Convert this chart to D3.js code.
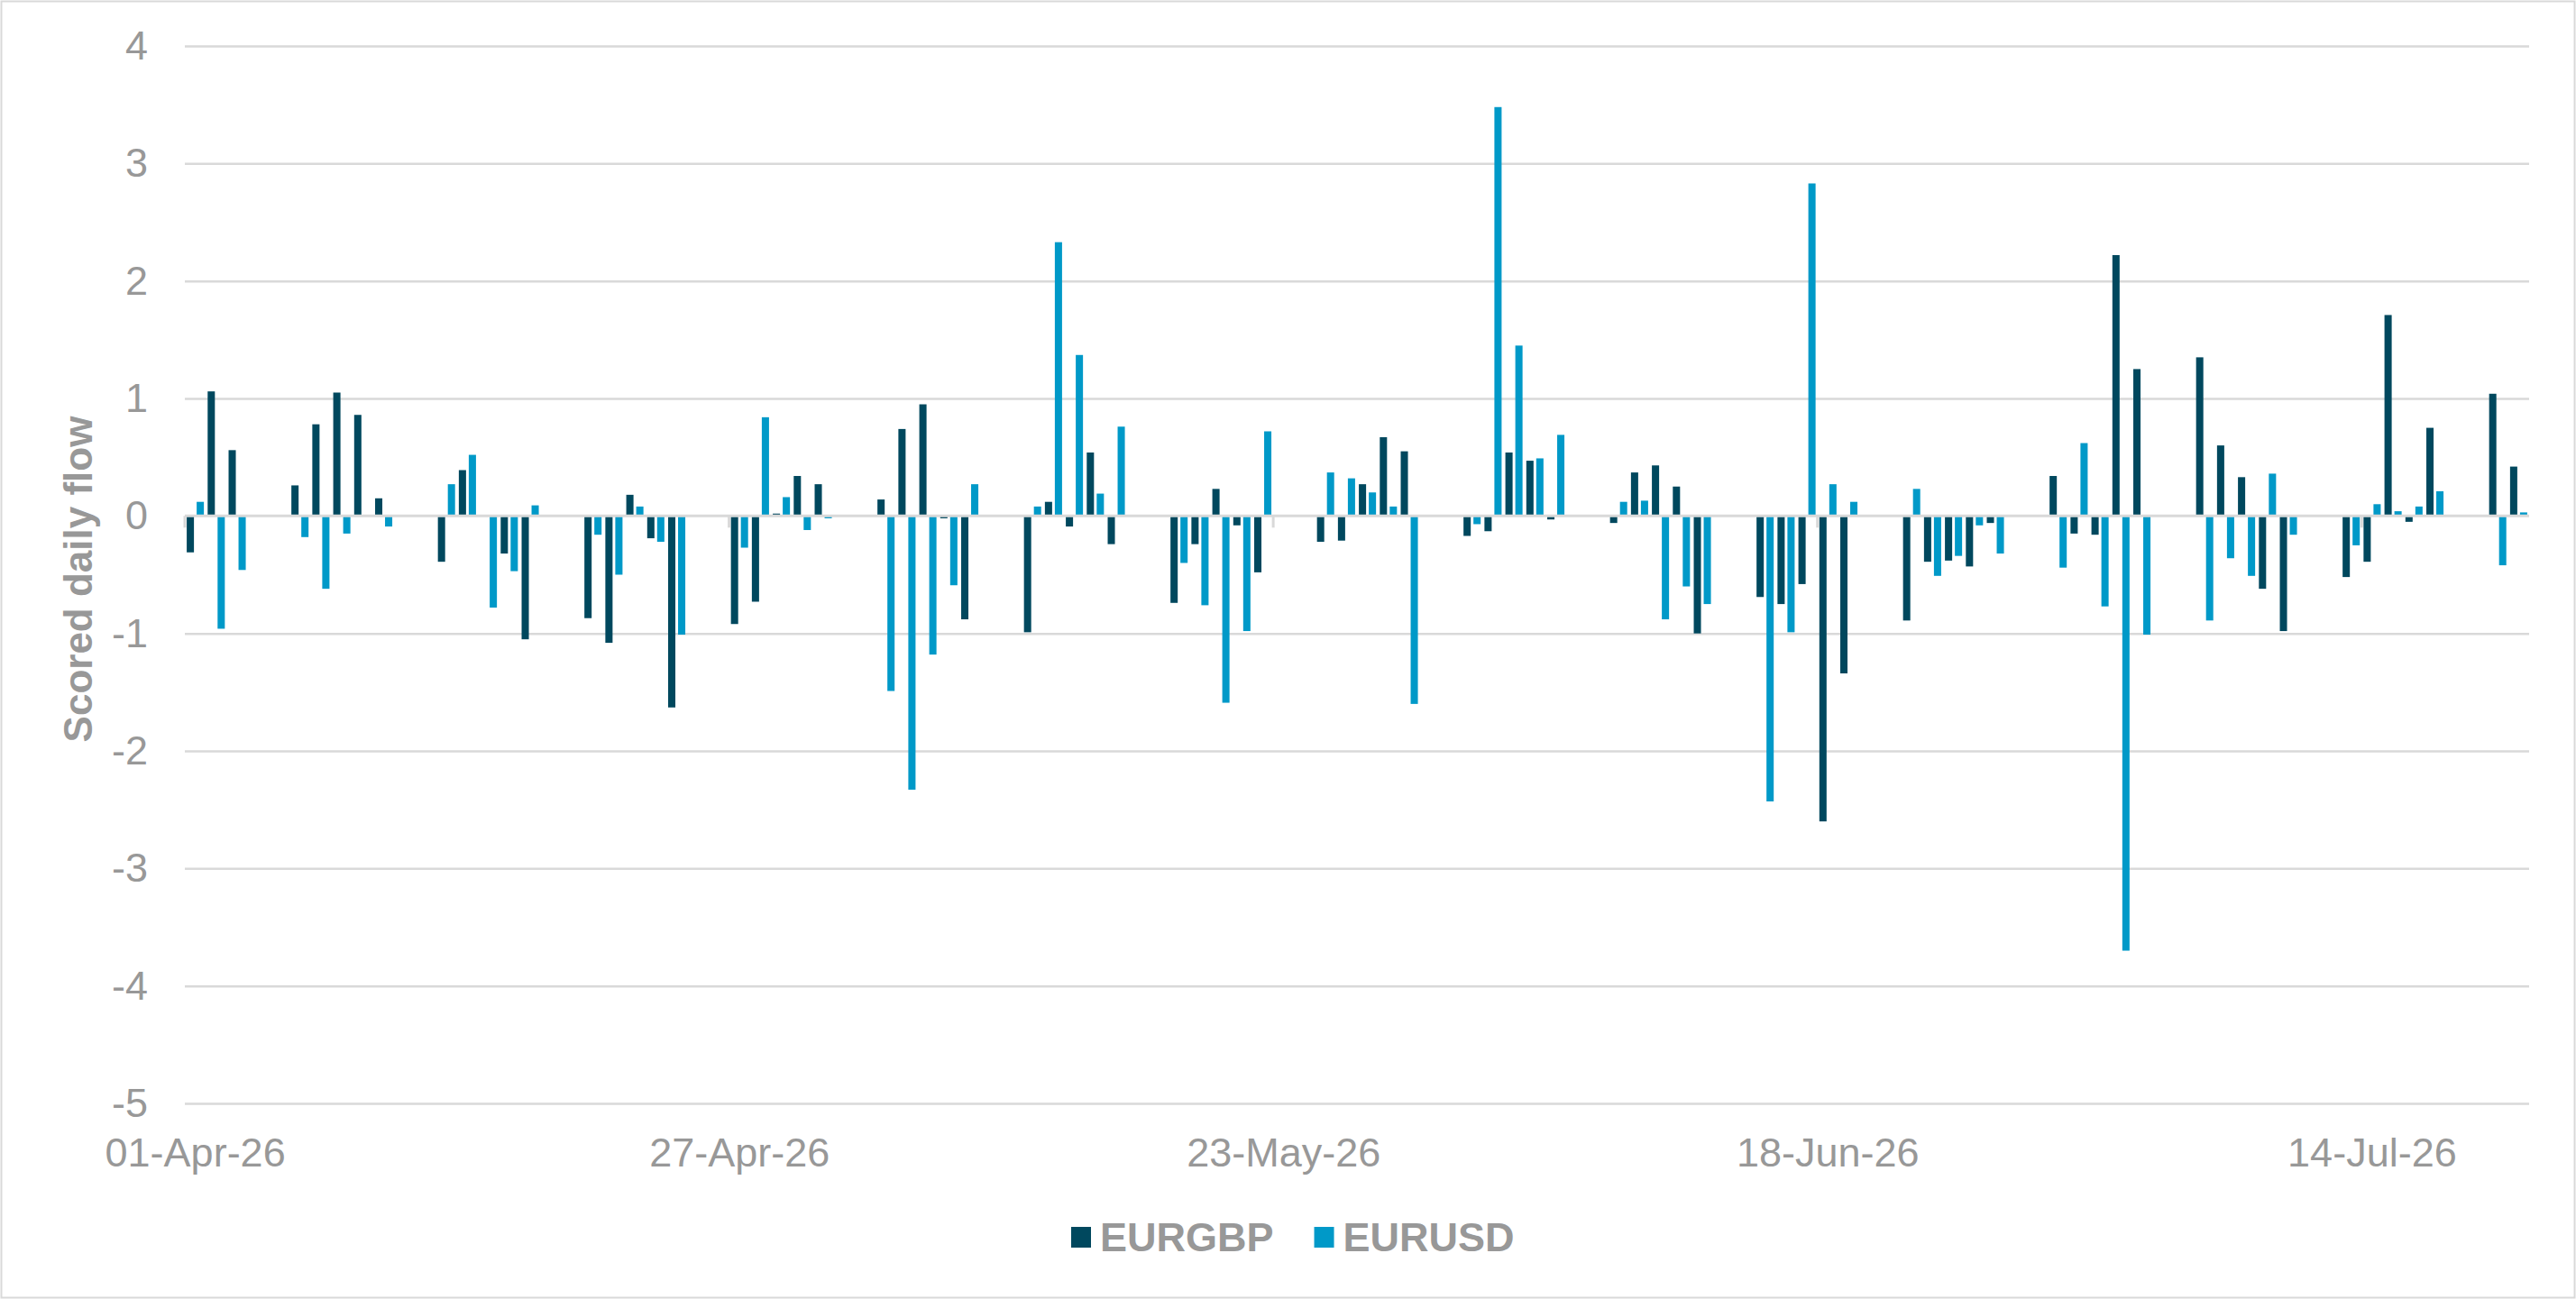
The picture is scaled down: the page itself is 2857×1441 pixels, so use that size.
<!DOCTYPE html>
<html>
<head>
<meta charset="utf-8">
<script src="https://d3js.org/d3.v7.min.js"></script>
<style>
    body { margin: 0; background: #fff; }
    svg { display: block; font-family: Arial, "Liberation Sans", sans-serif; }
</style>
</head>
<body>
<svg id="chart" width="2857" height="1441"></svg>
<script>
    // trading days shown on the chart
    var dates = [
        '2026-04-01', '2026-04-02', '2026-04-03',
        '2026-04-06', '2026-04-07', '2026-04-08', '2026-04-09', '2026-04-10',
        '2026-04-13', '2026-04-14', '2026-04-15', '2026-04-16', '2026-04-17',
        '2026-04-20', '2026-04-21', '2026-04-22', '2026-04-23', '2026-04-24',
        '2026-04-27', '2026-04-28', '2026-04-29', '2026-04-30',
        '2026-05-01',
        '2026-05-04', '2026-05-05', '2026-05-06', '2026-05-07', '2026-05-08',
        '2026-05-11', '2026-05-12', '2026-05-13', '2026-05-14', '2026-05-15',
        '2026-05-18', '2026-05-19', '2026-05-20', '2026-05-21', '2026-05-22',
        '2026-05-25', '2026-05-26', '2026-05-27', '2026-05-28', '2026-05-29',
        '2026-06-01', '2026-06-02', '2026-06-03', '2026-06-04', '2026-06-05',
        '2026-06-08', '2026-06-09', '2026-06-10', '2026-06-11', '2026-06-12',
        '2026-06-15', '2026-06-16', '2026-06-17', '2026-06-18', '2026-06-19',
        '2026-06-22', '2026-06-23', '2026-06-24', '2026-06-25', '2026-06-26',
        '2026-06-29', '2026-06-30',
        '2026-07-01', '2026-07-02', '2026-07-03',
        '2026-07-06', '2026-07-07', '2026-07-08', '2026-07-09', '2026-07-10',
        '2026-07-13', '2026-07-14', '2026-07-15', '2026-07-16', '2026-07-17',
        '2026-07-20', '2026-07-21'
    ];

    var eurgbp = [
        -0.31, 1.06, 0.56,
        0.26, 0.78, 1.05, 0.86, 0.15,
        -0.39, 0.39, 0, -0.32, -1.05,
        -0.87, -1.08, 0.18, -0.19, -1.63,
        -0.92, -0.73, 0.02, 0.34,
        0.27,
        0.14, 0.74, 0.95, -0.02, -0.88,
        -0.99, 0.12, -0.09, 0.54, -0.24,
        -0.74, -0.24, 0.23, -0.08, -0.48,
        -0.22, -0.21, 0.27, 0.67, 0.55,
        -0.17, -0.13, 0.54, 0.47, -0.03,
        -0.06, 0.37, 0.43, 0.25, -1.00,
        -0.69, -0.75, -0.58, -2.60, -1.34,
        -0.89, -0.39, -0.38, -0.43, -0.06,
        0.34, -0.15,
        -0.16, 2.22, 1.25,
        1.35, 0.60, 0.33, -0.62, -0.98,
        -0.52, -0.39, 1.71, -0.05, 0.75,
        1.04, 0.42
    ];

    var eurusd = [
        0.12, -0.96, -0.46,
        -0.18, -0.62, -0.15, 0, -0.09,
        0.27, 0.52, -0.78, -0.47, 0.09,
        -0.16, -0.50, 0.08, -0.22, -1.01,
        -0.27, 0.84, 0.16, -0.12,
        -0.02,
        -1.49, -2.33, -1.18, -0.59, 0.27,
        0.08, 2.33, 1.37, 0.19, 0.76,
        -0.40, -0.76, -1.59, -0.98, 0.72,
        0.37, 0.32, 0.20, 0.08, -1.60,
        -0.07, 3.48, 1.45, 0.49, 0.69,
        0.12, 0.13, -0.88, -0.60, -0.75,
        -2.43, -0.99, 2.83, 0.27, 0.12,
        0.23, -0.51, -0.34, -0.08, -0.32,
        -0.44, 0.62,
        -0.77, -3.70, -1.01,
        -0.89, -0.36, -0.51, 0.36, -0.16,
        -0.25, 0.10, 0.04, 0.08, 0.21,
        -0.42, 0.03
    ];

    var seriesNames = ['EURGBP', 'EURUSD'];
    var seriesColors = ['#00485e', '#0099c8'];
    var tickDates = ['2026-04-01', '2026-04-27', '2026-05-23', '2026-06-18', '2026-07-14'];
    var yTicks = [-5, -4, -3, -2, -1, 0, 1, 2, 3, 4];
    var axisStart = '2026-04-01', axisEnd = '2026-07-22';

    var parse = d3.timeParse('%Y-%m-%d');
    var key = d3.timeFormat('%Y-%m-%d');
    var fmt = d3.timeFormat('%d-%b-%y');

    // every calendar day gets a slot (date axis), weekends stay empty
    var allDays = d3.timeDay.range(parse(axisStart), parse(axisEnd)).map(key);

    var plotLeft = 205, plotRight = 2805, plotTop = 51, plotBottom = 1224;
    var gray = '#989898', gridColor = '#d9d9d9';

    var x0 = d3.scaleBand().domain(allDays).range([plotLeft, plotRight]);
    var bw = x0.bandwidth();
    var x1 = d3.scaleBand().domain(seriesNames)
        .range([bw * 0.09, bw * 0.91])
        .paddingInner(0.273);
    var y = d3.scaleLinear().domain([-5, 4]).range([plotBottom, plotTop]);

    var svg = d3.select('#chart');

    // outer border
    svg.append('rect')
        .attr('x', 1.5).attr('y', 1.5)
        .attr('width', 2854).attr('height', 1438)
        .attr('fill', '#fff')
        .attr('stroke', gridColor).attr('stroke-width', 2);

    // y axis + gridlines (plain hyphen for negatives, like the original)
    var yAxis = d3.axisLeft(y)
        .tickValues(yTicks)
        .tickSize(-(plotRight - plotLeft))
        .tickPadding(41)
        .tickFormat(function(d) { return String(d); });
    var gy = svg.append('g')
        .attr('transform', 'translate(' + plotLeft + ',0)')
        .call(yAxis);
    gy.select('.domain').remove();
    gy.selectAll('.tick line')
        .attr('stroke', gridColor)
        .attr('stroke-width', 2.5)
        .attr('display', function(d) { return d === 0 ? 'none' : null; });
    gy.selectAll('.tick text')
        .attr('fill', gray)
        .style('font-size', '45px');

    // bars
    var rows = dates.map(function(d, i) {
        return { date: d, values: [eurgbp[i], eurusd[i]] };
    });

    var groups = svg.append('g').selectAll('g')
        .data(rows)
        .enter()
        .append('g')
        .attr('transform', function(d) { return 'translate(' + x0(d.date) + ',0)'; });

    groups.selectAll('rect')
        .data(function(d) {
            return d.values.map(function(v, j) { return { name: seriesNames[j], value: v, idx: j }; });
        })
        .enter()
        .append('rect')
        .attr('x', function(d) { return x1(d.name); })
        .attr('width', x1.bandwidth())
        .attr('y', function(d) { return y(Math.max(0, d.value)); })
        .attr('height', function(d) { return Math.abs(y(d.value) - y(0)); })
        .attr('fill', function(d) { return seriesColors[d.idx]; });

    // horizontal (category) axis line at zero, with tick marks at label dates
    svg.append('line')
        .attr('x1', plotLeft).attr('x2', plotRight)
        .attr('y1', y(0)).attr('y2', y(0))
        .attr('stroke', gridColor)
        .attr('stroke-width', 3);

    svg.append('g').selectAll('line')
        .data(tickDates)
        .enter()
        .append('line')
        .attr('x1', function(d) { return x0(d); })
        .attr('x2', function(d) { return x0(d); })
        .attr('y1', y(0))
        .attr('y2', y(0) + 13)
        .attr('stroke', gridColor)
        .attr('stroke-width', 3);

    // date labels at the bottom
    var xAxis = d3.axisBottom(x0)
        .tickValues(tickDates)
        .tickSize(0)
        .tickPadding(38)
        .tickFormat(function(d) { return fmt(parse(d)); });
    var gx = svg.append('g')
        .attr('transform', 'translate(0,' + plotBottom + ')')
        .call(xAxis);
    gx.select('.domain').remove();
    gx.selectAll('.tick text')
        .attr('fill', gray)
        .style('font-size', '45px');

    // y axis title
    svg.append('text')
        .attr('transform', 'translate(102,' + ((plotTop + plotBottom) / 2 + 5) + ') rotate(-90)')
        .attr('text-anchor', 'middle')
        .attr('fill', gray)
        .style('font-size', '44px')
        .style('font-weight', 'bold')
        .text('Scored daily flow');

    // legend
    var lx = 1188;
    seriesNames.forEach(function(name, i) {
        svg.append('rect')
            .attr('x', lx).attr('y', 1361)
            .attr('width', 22).attr('height', 23)
            .attr('fill', seriesColors[i]);
        var t = svg.append('text')
            .attr('x', lx + 32).attr('y', 1388)
            .attr('fill', gray)
            .style('font-size', '45px')
            .style('font-weight', 'bold')
            .text(name);
        lx = lx + 32 + t.node().getComputedTextLength() + 45;
    });
</script>
</body>
</html>
